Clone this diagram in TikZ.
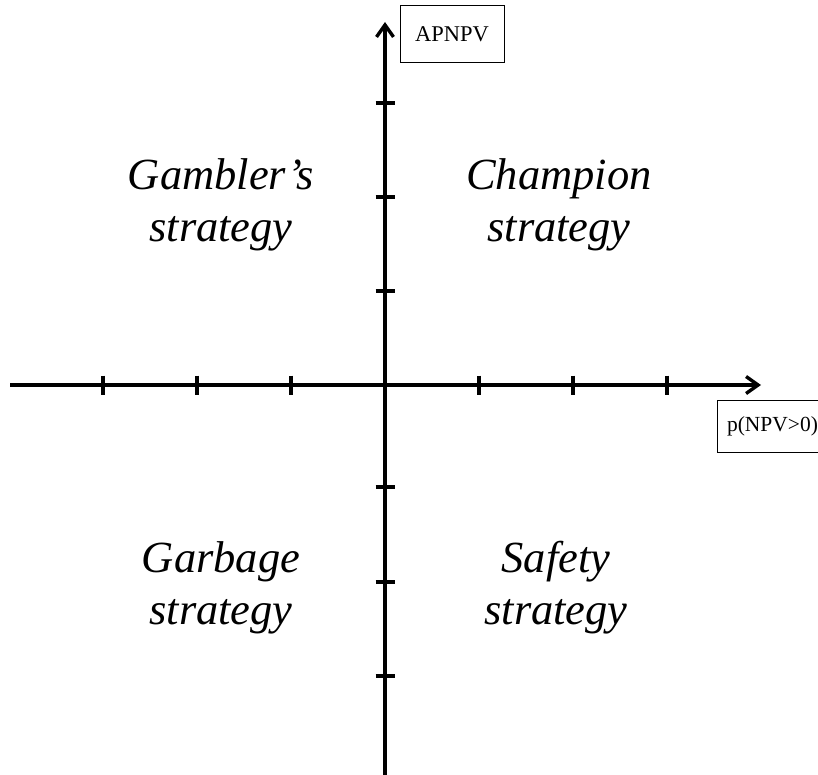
\documentclass[tikz,border=0pt]{standalone}
\usepackage{fontspec}
\setmainfont{Liberation Serif}
\usetikzlibrary{arrows.meta}
\begin{document}
\begin{tikzpicture}[x=1pt,y=-1pt,
  axis/.style={line width=3.4pt,-{Straight Barb[length=12pt,width=17pt,line width=3.4pt]}},
  tick/.style={line width=3.2pt},
  quadrant/.style={align=center,font=\fontsize{44.5}{52}\selectfont\itshape,inner sep=0pt},
  label box/.style={draw,line width=1pt,font=\fontsize{22.5}{26}\selectfont,minimum height=57pt}
]
\useasboundingbox (0,0) rectangle (818,775);
% axes
\coordinate (o) at (385,385);
\coordinate (xs) at (10,385);
\coordinate (xe) at (761,385);
\coordinate (ys) at (385,776);
\coordinate (ye) at (385,22);
\draw[axis] (xs) -- (xe);
\draw[axis] (ys) -- (ye);
% ticks on the horizontal axis
\foreach \x in {103,197,291,479,573,667}
  \draw[tick] (\x,375.5) -- (\x,394.5);
% ticks on the vertical axis
\foreach \y in {103,197,291,487,582,676}
  \draw[tick] (375.5,\y) -- (394.5,\y);
% axis labels
\node[label box,minimum width=104pt] (ylab) at (452,34.5) {APNPV};
\node[label box,anchor=west,minimum height=52pt,inner xsep=3.5pt,minimum width=110pt,align=left,font=\fontsize{21.5}{25}\selectfont] (xlab) at (717,426) {p(NPV>0)\hfill};
% quadrant labels
\node[quadrant] (gambler) at (221,205) {Gambler’s\\strategy};
\node[quadrant] (champion) at (559,205) {Champion\\strategy};
\node[quadrant] (garbage) at (221,588) {Garbage\\strategy};
\node[quadrant] (safety) at (556,588) {Safety\\strategy};
\end{tikzpicture}
\end{document}
